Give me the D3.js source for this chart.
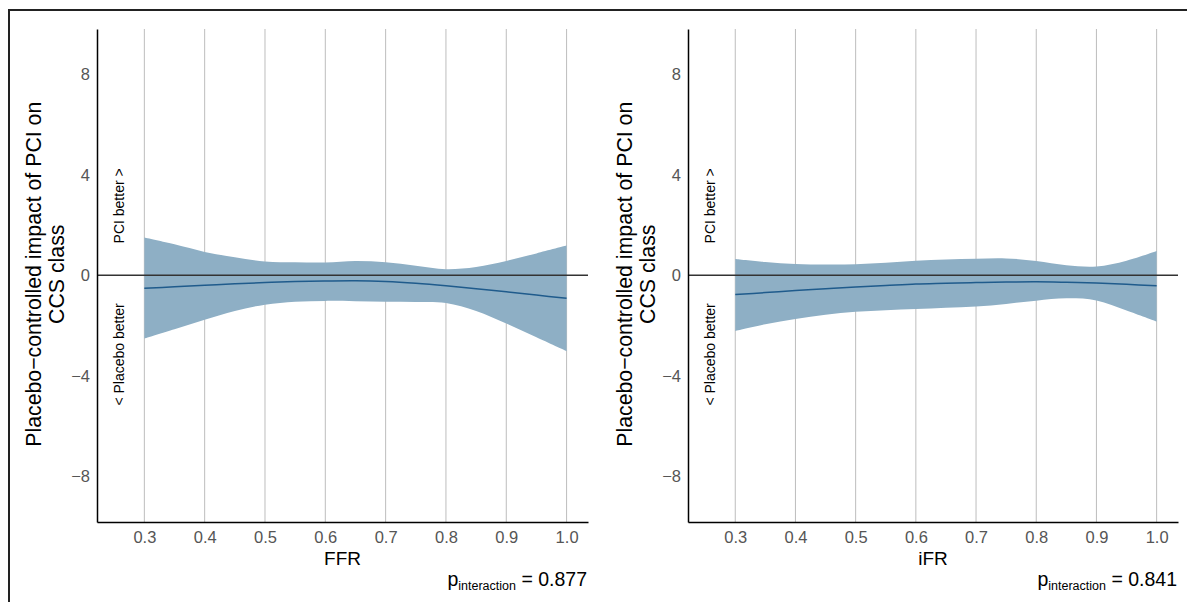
<!DOCTYPE html>
<html>
<head>
<meta charset="utf-8">
<script src="https://cdn.jsdelivr.net/npm/d3@7"></script>
<style>
  body { margin: 0; background: #fff; }
  svg { display: block; font-family: "Liberation Sans", Arial, sans-serif; }
</style>
</head>
<body>
<div id="chart"></div>
<script>
// x positions of the estimates (FFR / iFR value)
var xs = [0.30, 0.35, 0.40, 0.45, 0.50, 0.55, 0.60, 0.65, 0.70, 0.75, 0.80, 0.85, 0.90, 0.95, 1.00];

// FFR panel
var ffrFit   = [-0.52, -0.46, -0.40, -0.34, -0.29, -0.25, -0.23, -0.22, -0.25, -0.32, -0.42, -0.54, -0.66, -0.79, -0.92];
var ffrUpper = [1.50, 1.23, 0.93, 0.72, 0.55, 0.52, 0.51, 0.57, 0.52, 0.38, 0.24, 0.33, 0.57, 0.87, 1.18];
var ffrLower = [-2.52, -2.15, -1.77, -1.42, -1.17, -1.05, -1.02, -1.03, -1.05, -1.06, -1.10, -1.42, -1.92, -2.47, -3.02];

// iFR panel
var ifrFit   = [-0.77, -0.69, -0.61, -0.54, -0.47, -0.41, -0.35, -0.32, -0.29, -0.27, -0.26, -0.28, -0.31, -0.36, -0.42];
var ifrUpper = [0.65, 0.53, 0.45, 0.43, 0.44, 0.50, 0.58, 0.63, 0.66, 0.67, 0.57, 0.40, 0.35, 0.58, 0.97];
var ifrLower = [-2.22, -1.95, -1.74, -1.57, -1.45, -1.39, -1.34, -1.29, -1.24, -1.14, -1.01, -0.92, -1.00, -1.40, -1.84];

var xTicks = [0.3, 0.4, 0.5, 0.6, 0.7, 0.8, 0.9, 1.0];
var yTicks = [-8, -4, 0, 4, 8];
var xTitles = ["FFR", "iFR"];
var pValues = ["0.877", "0.841"];

var W = 1187, H = 602;
var svg = d3.select("#chart").append("svg")
    .attr("width", W)
    .attr("height", H);

// outer frame (top and left edges only visible)
svg.append("path")
    .attr("d", "M9,602 L9,10 L1187,10")
    .attr("fill", "none")
    .attr("stroke", "#222")
    .attr("stroke-width", 2);

var panels = [
  {left: 97,  right: 588, fit: ffrFit, upper: ffrUpper, lower: ffrLower, title: xTitles[0], p: pValues[0]},
  {left: 688, right: 1178, fit: ifrFit, upper: ifrUpper, lower: ifrLower, title: xTitles[1], p: pValues[1]}
];
var plotTop = 29, plotBottom = 522;

panels.forEach(function(pn) {
    var x = d3.scaleLinear()
        .domain([0.2215, 1.0355])
        .range([pn.left, pn.right]);
    var y = d3.scaleLinear()
        .domain([-9.82, 9.8])
        .range([plotBottom, plotTop]);

    var g = svg.append("g");

    // vertical grid lines
    g.selectAll("line.grid")
        .data(xTicks)
        .enter().append("line")
        .attr("class", "grid")
        .attr("x1", function(d) { return x(d); })
        .attr("x2", function(d) { return x(d); })
        .attr("y1", plotTop)
        .attr("y2", plotBottom)
        .attr("stroke", "#bdbdbd")
        .attr("stroke-width", 1);

    // confidence band
    var band = d3.area()
        .x(function(d, i) { return x(xs[i]); })
        .y0(function(d, i) { return y(pn.lower[i]); })
        .y1(function(d, i) { return y(pn.upper[i]); })
        .curve(d3.curveCatmullRom);
    g.append("path")
        .datum(xs)
        .attr("d", band)
        .attr("fill", "#8eafc5");

    // zero reference line
    g.append("line")
        .attr("x1", pn.left)
        .attr("x2", pn.right)
        .attr("y1", y(0))
        .attr("y2", y(0))
        .attr("stroke", "#333")
        .attr("stroke-width", 1.6);

    // fitted line
    var fline = d3.line()
        .x(function(d, i) { return x(xs[i]); })
        .y(function(d, i) { return y(pn.fit[i]); })
        .curve(d3.curveCatmullRom);
    g.append("path")
        .datum(xs)
        .attr("d", fline)
        .attr("fill", "none")
        .attr("stroke", "#1f5b8c")
        .attr("stroke-width", 1.5);

    // axes
    var xAxis = g.append("g")
        .attr("transform", "translate(0," + plotBottom + ")")
        .call(d3.axisBottom(x)
            .tickValues(xTicks)
            .tickFormat(d3.format(".1f"))
            .tickSize(0)
            .tickPadding(9));
    xAxis.select(".domain").attr("stroke", "#000").attr("stroke-width", 1.5);

    var yAxis = g.append("g")
        .attr("transform", "translate(" + pn.left + ",0)")
        .call(d3.axisLeft(y)
            .tickValues(yTicks)
            .tickFormat(function(d) { return d < 0 ? "\u2212" + Math.abs(d) : d; })
            .tickSize(0)
            .tickPadding(7));
    yAxis.select(".domain").attr("stroke", "#000").attr("stroke-width", 1.5);

    [xAxis, yAxis].forEach(function(ax) {
        ax.attr("font-family", "'Liberation Sans', Arial, sans-serif").attr("font-size", 16.5);
        ax.selectAll(".tick text")
            .attr("font-size", 16.5)
            .attr("fill", "#555");
    });

    // y title (two lines)
    var yt = g.append("text")
        .attr("transform", "translate(" + (pn.left - 56) + "," + (y(0) - 1) + ") rotate(-90)")
        .attr("text-anchor", "middle")
        .attr("font-size", 21.3)
        .attr("fill", "#000");
    yt.append("tspan").attr("x", 0).attr("dy", 0).text("Placebo\u2212controlled impact of PCI on");
    yt.append("tspan").attr("x", 0).attr("dy", 22.5).text("CCS class");

    // direction annotations
    g.append("text")
        .attr("transform", "translate(" + (pn.left + 27) + "," + y(2.76) + ") rotate(-90)")
        .attr("text-anchor", "middle")
        .attr("font-size", 14)
        .text("PCI better >");
    g.append("text")
        .attr("transform", "translate(" + (pn.left + 27) + "," + y(-3.15) + ") rotate(-90)")
        .attr("text-anchor", "middle")
        .attr("font-size", 14)
        .text("< Placebo better");

    // x title
    g.append("text")
        .attr("x", (pn.left + pn.right) / 2)
        .attr("y", 565)
        .attr("text-anchor", "middle")
        .attr("font-size", 19)
        .text(pn.title);

    // interaction p value
    var pt = g.append("text")
        .attr("x", pn.right - 1)
        .attr("y", 586)
        .attr("text-anchor", "end")
        .attr("font-size", 19.5);
    pt.append("tspan").text("p");
    pt.append("tspan").attr("font-size", 12.5).attr("dy", 4).text("interaction");
    pt.append("tspan").attr("dy", -4).text(" = " + pn.p);
});
</script>
</body>
</html>
